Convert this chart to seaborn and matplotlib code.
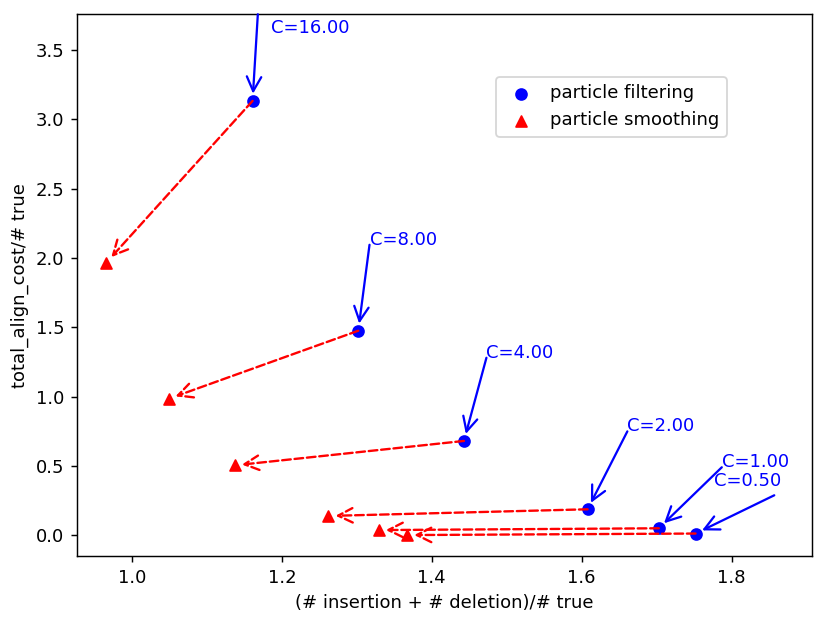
import matplotlib
matplotlib.use("Agg")
import matplotlib.pyplot as plt
import seaborn as sns

# values
c_values = [16, 8, 4, 2, 1, 0.5]
filt_x = [1.161, 1.302, 1.443, 1.608, 1.703, 1.752]
filt_y = [3.133, 1.475, 0.680, 0.187, 0.050, 0.012]
smooth_x = [0.966, 1.049, 1.137, 1.262, 1.329, 1.367]
smooth_y = [1.967, 0.984, 0.504, 0.139, 0.037, 0.001]

# label placement (offsets from the filtering points, data units)
tail_dx = [0.007, 0.015, 0.030, 0.053, 0.084, 0.105]
tail_dy = [0.625, 0.620, 0.600, 0.562, 0.440, 0.276]
text_dx = [0.024, 0.015, 0.030, 0.053, 0.084, 0.024]
text_dy = [0.488, 0.620, 0.600, 0.562, 0.440, 0.341]

fig, ax = plt.subplots(figsize=(830 / 130, 620 / 130), dpi=130)
fig.subplots_adjust(left=0.093, right=0.978, top=0.977, bottom=0.103)

sns.scatterplot(x=filt_x, y=filt_y, ax=ax, color="blue", marker="o", s=36,
                edgecolor="blue", linewidth=1, label="particle filtering", zorder=3)
sns.scatterplot(x=smooth_x, y=smooth_y, ax=ax, color="red", marker="^", s=36,
                edgecolor="red", linewidth=1, label="particle smoothing", zorder=3)

# dashed arrows from filtering to smoothing
for fx, fy, sx, sy in zip(filt_x, filt_y, smooth_x, smooth_y):
    ax.annotate("", xy=(sx, sy), xytext=(fx, fy),
                arrowprops=dict(arrowstyle="->", color="red", linestyle="--",
                                lw=1.3, mutation_scale=20, shrinkA=0, shrinkB=4))

ax.set_xlim(0.927, 1.907)
ax.set_ylim(-0.151, 3.758)

# C labels with blue arrows
for c, fx, fy, tdx, tdy, xdx, xdy in zip(c_values, filt_x, filt_y, tail_dx, tail_dy, text_dx, text_dy):
    ty = min(fy + tdy, 3.758)
    ax.annotate("", xy=(fx, fy), xytext=(fx + tdx, ty),
                arrowprops=dict(arrowstyle="->", color="blue", lw=1.25,
                                mutation_scale=20, shrinkA=0, shrinkB=4))
    ax.text(fx + xdx, fy + xdy, "C=%.2f" % c, color="blue", fontsize=10,
            ha="left", va="baseline")

ax.set_xlabel("(# insertion + # deletion)/# true")
ax.set_ylabel("total_align_cost/# true")
ax.legend(loc="upper right", bbox_to_anchor=(0.884, 0.884), borderaxespad=0,
          handletextpad=0.6)

fig.savefig("out.png", dpi=130)
